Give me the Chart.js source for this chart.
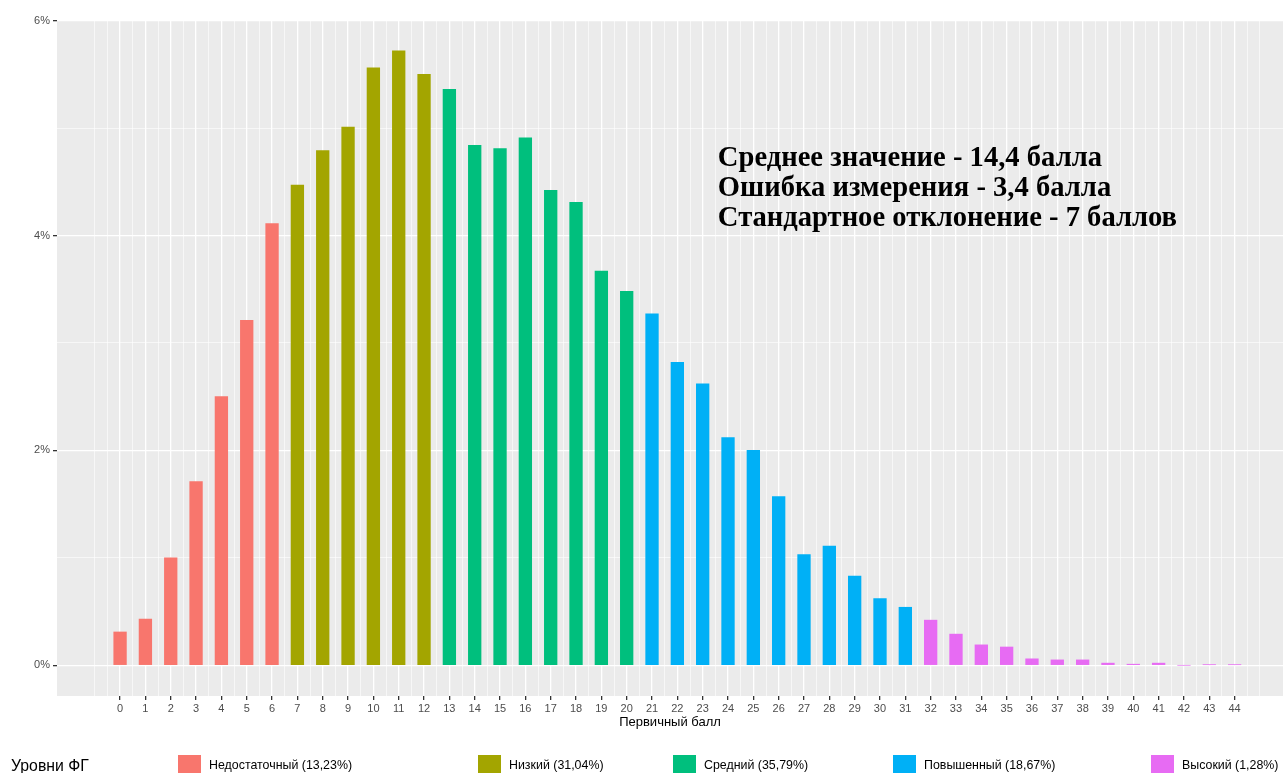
<!DOCTYPE html>
<html lang="ru">
<head>
  <meta charset="UTF-8">
  <title>Распределение первичных баллов</title>
  <script src="https://cdn.jsdelivr.net/npm/chart.js"></script>
  <style>
    body { margin: 0; background: #fff; font-family: "Liberation Sans", Arial, sans-serif; }
    .wrap { position: relative; width: 1283px; height: 773px; overflow: hidden; }
    #chart { position: absolute; left: 0; top: 0; }
    .legend-title { position: absolute; left: 11px; top: 757px; font-size: 15.8px; color: #000; }
    .key { position: absolute; top: 755px; width: 23px; height: 23px; }
    .key-label { position: absolute; top: 758px; font-size: 12.4px; color: #000; }
  </style>
</head>
<body>
  <div class="wrap">
    <canvas id="chart" width="1283" height="773"></canvas>
    <div id="legend"></div>
  </div>
  <script>
    // Первичный балл 0..44 and share of participants, %
    const scores = [0, 1, 2, 3, 4, 5, 6, 7, 8, 9, 10, 11, 12, 13, 14, 15, 16, 17, 18, 19, 20, 21, 22,
      23, 24, 25, 26, 27, 28, 29, 30, 31, 32, 33, 34, 35, 36, 37, 38, 39, 40, 41, 42, 43, 44];
    const shares = [0.31, 0.43, 1.00, 1.71, 2.50, 3.21, 4.11, 4.47, 4.79, 5.01, 5.56, 5.72, 5.50,
      5.36, 4.84, 4.81, 4.91, 4.42, 4.31, 3.67, 3.48, 3.27, 2.82, 2.62, 2.12, 2.00, 1.57, 1.03,
      1.11, 0.83, 0.62, 0.54, 0.42, 0.29, 0.19, 0.17, 0.06, 0.05, 0.05, 0.02, 0.01, 0.02, 0,
      0.005, 0.005];

    // levels: first score of each level
    const levelNames = ['Недостаточный (13,23%)', 'Низкий (31,04%)', 'Средний (35,79%)',
      'Повышенный (18,67%)', 'Высокий (1,28%)'];
    const levelStart = [0, 7, 13, 21, 32];
    const levelColors = ['#F8766D', '#A3A500', '#00BF7D', '#00B0F6', '#E76BF3'];

    const yTicks = [0, 1, 2, 3, 4, 5, 6];
    const noteLines = ['Среднее значение - 14,4 балла', 'Ошибка измерения - 3,4 балла',
      'Стандартное отклонение - 7 баллов'];

    // legend key positions (px) in the strip under the plot
    const legendKeyX = [178, 478, 673, 893, 1151];

    const datasets = levelNames.map((name, i) => {
      const lo = levelStart[i];
      const hi = i + 1 < levelStart.length ? levelStart[i + 1] : Infinity;
      const data = [];
      scores.forEach((s, j) => {
        if (s >= lo && s < hi) data.push({ x: s, y: shares[j] });
      });
      return { label: name, data, backgroundColor: levelColors[i], borderWidth: 0 };
    });

    // x grid: major at every score, minor at halves (ggplot style)
    const xGrid = [];
    for (let v = -1; v <= 45; v += 0.5) xGrid.push(v);
    const isLabelX = v => Number.isInteger(v) && v >= scores[0] && v <= scores[scores.length - 1];
    const tickVal = ctx => (ctx && ctx.tick ? ctx.tick.value : NaN);

    const panelBg = {
      id: 'panelBg',
      beforeDraw(chart) {
        const a = chart.chartArea, c = chart.ctx;
        c.save();
        c.fillStyle = '#EBEBEB';
        c.fillRect(a.left, a.top, a.right - a.left, a.bottom - a.top);
        c.restore();
      }
    };

    const note = {
      id: 'note',
      afterDatasetsDraw(chart) {
        const c = chart.ctx;
        const x = chart.scales.x.getPixelForValue(23.6);
        const y = chart.scales.y.getPixelForValue(4.65);
        c.save();
        c.font = 'bold 28.6px "Liberation Serif", "Times New Roman", serif';
        c.fillStyle = '#000';
        c.textBaseline = 'alphabetic';
        noteLines.forEach((t, i) => c.fillText(t, x, y + i * 30));
        c.restore();
      }
    };

    new Chart(document.getElementById('chart'), {
      type: 'bar',
      data: { datasets },
      options: {
        responsive: false,
        animation: false,
        layout: { padding: { top: 20, right: 0, left: 0, bottom: 43 } },
        // ruler = half-score tick spacing, so full percentage gives a 0.5-wide bar
        datasets: { bar: { grouped: false, barPercentage: 1, categoryPercentage: 1 } },
        plugins: { legend: { display: false }, tooltip: { enabled: false } },
        scales: {
          x: {
            type: 'linear',
            offset: false,
            min: -2.49,
            max: 45.91,
            afterBuildTicks: s => { s.ticks = xGrid.map(v => ({ value: v })); },
            afterFit: s => { s.height = 34; },
            ticks: {
              autoSkip: false, maxRotation: 0, padding: 2,
              color: '#4D4D4D', font: { family: 'Liberation Sans', size: 11 },
              callback: v => isLabelX(v) ? String(v) : ''
            },
            grid: {
              offset: false,
              color: '#FFFFFF',
              lineWidth: ctx => isLabelX(tickVal(ctx)) ? 1.3 : 0.6,
              tickColor: ctx => isLabelX(tickVal(ctx)) ? '#333333' : 'rgba(0,0,0,0)',
              tickWidth: 1.3,
              tickLength: 4
            },
            border: { display: false },
            title: {
              display: true, text: 'Первичный балл', color: '#000',
              font: { family: 'Liberation Sans', size: 13 }, padding: 0
            }
          },
          y: {
            min: -0.286,
            max: 6.006,
            afterBuildTicks: s => { s.ticks = yTicks.map(v => ({ value: v })); },
            afterFit: s => { s.width = 57; },
            ticks: {
              padding: 3, color: '#4D4D4D', font: { family: 'Liberation Sans', size: 11 },
              callback: v => v % 2 === 0 ? v + '%' : ''
            },
            grid: {
              color: '#FFFFFF',
              lineWidth: ctx => tickVal(ctx) % 2 === 0 ? 1.3 : 0.6,
              tickColor: ctx => tickVal(ctx) % 2 === 0 ? '#333333' : 'rgba(0,0,0,0)',
              tickWidth: 1.3,
              tickLength: 4
            },
            border: { display: false }
          }
        }
      },
      plugins: [panelBg, note]
    });

    // legend strip (ggplot-like, bottom)
    const legend = document.getElementById('legend');
    let html = '<div class="legend-title">Уровни ФГ</div>';
    levelNames.forEach((name, i) => {
      html += `<div class="key" style="left:${legendKeyX[i]}px;background:${levelColors[i]}"></div>` +
        `<div class="key-label" style="left:${legendKeyX[i] + 31}px">${name}</div>`;
    });
    legend.innerHTML = html;
  </script>
</body>
</html>
